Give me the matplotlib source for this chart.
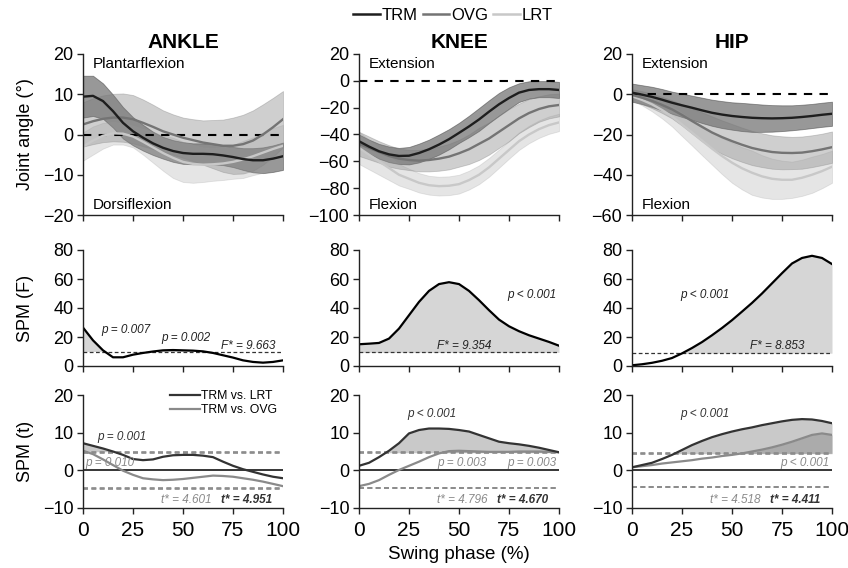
import matplotlib
matplotlib.use("Agg")
import matplotlib.pyplot as plt
from matplotlib.lines import Line2D
import numpy as np

plt.rcParams['font.family'] = ['Liberation Sans', 'DejaVu Sans']

# swing phase (%)
phase = [0, 5, 10, 15, 20, 25, 30, 35, 40, 45, 50, 55, 60, 65, 70, 75, 80, 85, 90, 95, 100]
joints = ["ANKLE", "KNEE", "HIP"]

# joint angles: mean and spread per group
ankle_trm = [9.4, 9.6, 8.3, 5.8, 2.9, 0.8, -0.8, -2.2, -3.3, -4.1, -4.6, -4.8, -4.8, -4.9, -5.2, -5.6, -6.1, -6.4, -6.4, -6.0, -5.4]
ankle_trm_sd = [5.2, 5.0, 4.4, 4.1, 3.9, 3.5, 3.2, 2.9, 2.7, 2.7, 2.7, 2.6, 2.6, 2.5, 2.4, 2.5, 2.7, 3.0, 3.2, 3.3, 3.4]
ankle_ovg = [2.5, 3.3, 3.9, 4.2, 4.2, 3.8, 2.9, 1.9, 0.8, 0.0, -0.8, -1.4, -2.0, -2.4, -2.8, -2.8, -2.4, -1.5, 0.0, 1.8, 3.8]
ankle_ovg_sd = [5.5, 5.7, 5.8, 5.9, 6.0, 6.0, 5.8, 5.5, 5.2, 5.0, 5.0, 5.2, 5.5, 6.0, 6.5, 7.0, 7.3, 7.5, 7.5, 7.3, 7.0]
ankle_lrt = [-3.0, -1.5, -0.3, 0.3, 0.2, -0.5, -1.8, -3.2, -4.6, -5.8, -6.8, -7.3, -7.5, -7.4, -7.2, -6.8, -6.2, -5.4, -4.5, -3.6, -2.8]
ankle_lrt_sd = [3.5, 3.5, 3.2, 2.8, 2.7, 2.7, 3.2, 3.8, 4.4, 5.0, 5.0, 4.7, 4.3, 4.1, 4.1, 4.2, 4.6, 4.7, 5.0, 5.2, 5.2]

knee_trm = [-45, -49, -52.5, -54.8, -56, -55.8, -53.8, -51, -47.5, -43.5, -38.8, -34, -28.8, -23, -17.5, -12.8, -8.8, -6.8, -6.2, -6.2, -6.8]
knee_trm_sd = [5, 5.2, 5.5, 5.8, 6, 6.5, 7, 7.2, 7.5, 7.5, 7.5, 8, 8.5, 8.5, 8.5, 8, 7, 6.5, 6, 6, 6]
knee_ovg = [-47, -50, -53, -56, -58, -59, -59.5, -59, -58, -56.5, -54, -51, -47, -43, -38, -33, -28, -24, -21, -19, -18]
knee_ovg_sd = [9, 8.5, 8, 8, 7.5, 7.5, 8, 8.5, 9, 9.5, 10, 11, 12, 12, 12, 12, 11, 10.5, 9.5, 9, 8.5]
knee_lrt = [-50, -55, -60, -65, -70, -73, -76, -77.8, -78.5, -78.2, -77, -74, -70, -64.5, -58, -51.5, -45, -40, -36, -33, -31]
knee_lrt_sd = [12, 11, 10, 9, 8, 7.5, 7.2, 7, 7, 7, 7, 7, 7, 7, 6.8, 6.5, 6.5, 6.5, 6.5, 6.5, 6.5]

hip_trm = [0.8, -0.2, -1.3, -2.7, -4.2, -5.5, -6.7, -8, -9.2, -10.1, -10.8, -11.3, -11.7, -11.9, -12, -11.9, -11.7, -11.3, -10.8, -10.2, -9.7]
hip_trm_sd = [4.5, 4.7, 5, 5.3, 5.5, 5.8, 6, 6.3, 6.5, 6.7, 6.8, 7, 7, 6.8, 6.6, 6.4, 6.2, 6.1, 6, 6, 6]
hip_ovg = [-0.3, -1.7, -3.3, -5.3, -7.5, -10.3, -13.3, -16.2, -19, -21.3, -23.3, -25.1, -26.7, -27.8, -28.7, -29.1, -29.2, -29, -28.3, -27.4, -26.3]
hip_ovg_sd = [2.8, 3.2, 3.6, 4, 4.5, 5.3, 6.2, 7.2, 8, 8.3, 8.5, 8.5, 8.5, 8.4, 8.3, 8.2, 8, 8, 7.9, 7.8, 7.8]
hip_lrt = [-1, -2.8, -5, -7.8, -11, -15, -19, -23, -27, -30.7, -34, -36.8, -39, -40.8, -42, -42.5, -42.5, -41.5, -40, -38.2, -36]
hip_lrt_sd = [2, 2.7, 3.5, 4.2, 5, 5.8, 6.5, 7.3, 8, 9, 10, 10.5, 11, 10.5, 10, 9.5, 9, 9, 9, 8.5, 8]

# SPM{F}
ankle_F = [26.5, 17.7, 10.8, 6.0, 6.0, 7.8, 9.0, 10.0, 10.8, 11.0, 10.8, 10.6, 10.1, 9.0, 7.4, 5.8, 3.9, 2.8, 2.3, 2.8, 3.9]
knee_F = [15, 15.4, 15.9, 18.9, 25.8, 35, 44.2, 51.8, 56.5, 57.8, 56.5, 51.8, 45.4, 38.5, 32, 27.4, 24, 21.2, 18.9, 16.6, 14]
hip_F = [0.5, 1.2, 2.2, 3.6, 5.5, 8.7, 12.4, 16.5, 21.2, 26.2, 31.6, 37.5, 43.5, 50, 57, 64, 70.7, 74.5, 76, 74.5, 70.3]
F_crit = [9.663, 9.354, 8.853]

# SPM{t}: TRM vs. LRT and TRM vs. OVG
ankle_t_lrt = [7.2, 6.5, 5.8, 5.0, 4.1, 3.0, 2.7, 2.9, 3.6, 4.0, 4.1, 4.1, 3.9, 3.5, 2.3, 1.2, 0.3, -0.4, -1.1, -1.7, -2.1]
ankle_t_ovg = [5.2, 4.3, 2.9, 1.4, -0.1, -1.2, -2.1, -2.4, -2.6, -2.5, -2.3, -2.0, -1.7, -1.4, -1.5, -1.7, -2.1, -2.5, -3.0, -3.6, -4.2]
knee_t_lrt = [1.2, 2.0, 3.5, 5.2, 7.2, 9.8, 10.7, 11.1, 11.1, 11.0, 10.7, 10.3, 9.4, 8.5, 7.6, 7.2, 6.9, 6.5, 6.0, 5.4, 4.8]
knee_t_ovg = [-4.2, -3.6, -2.6, -1.2, 0.1, 1.2, 2.3, 3.5, 4.5, 5.1, 5.2, 5.1, 5.0, 4.9, 4.9, 4.9, 5.0, 5.0, 5.0, 4.9, 4.8]
hip_t_lrt = [0.8, 1.4, 2.0, 3.0, 4.1, 5.4, 6.7, 7.8, 8.8, 9.6, 10.3, 10.9, 11.4, 12.0, 12.5, 13.0, 13.4, 13.6, 13.5, 13.1, 12.5]
hip_t_ovg = [0.8, 1.1, 1.4, 1.8, 2.1, 2.4, 2.7, 3.1, 3.4, 3.8, 4.1, 4.5, 5.0, 5.5, 6.1, 6.8, 7.6, 8.5, 9.4, 9.8, 9.4]
t_crit_lrt = [4.951, 4.670, 4.411]
t_crit_ovg = [4.601, 4.796, 4.518]

angle_ylims = [(-20, 20, 10), (-100, 20, 20), (-60, 20, 20)]
top_words = ["Plantarflexion", "Extension", "Extension"]
bottom_words = ["Dorsiflexion", "Flexion", "Flexion"]

F_texts = [[("p = 0.007", 9, 24.5), ("p = 0.002", 39, 19.5)], [("p < 0.001", 74, 49)], [("p < 0.001", 24, 49)]]
F_crit_x = [69, 39, 59]
t_texts_dark = [("p = 0.001", 7, 8.8), ("p < 0.001", 24, 14.9), ("p < 0.001", 24, 14.9)]
t_texts_gray = [[("p = 0.010", 1, 1.9)], [("p = 0.003", 39, 1.9), ("p = 0.003", 74, 1.9)], [("p < 0.001", 74, 1.9)]]

angles = [
    [(ankle_trm, ankle_trm_sd), (ankle_ovg, ankle_ovg_sd), (ankle_lrt, ankle_lrt_sd)],
    [(knee_trm, knee_trm_sd), (knee_ovg, knee_ovg_sd), (knee_lrt, knee_lrt_sd)],
    [(hip_trm, hip_trm_sd), (hip_ovg, hip_ovg_sd), (hip_lrt, hip_lrt_sd)],
]
F_curves = [ankle_F, knee_F, hip_F]
t_curves = [(ankle_t_lrt, ankle_t_ovg), (knee_t_lrt, knee_t_ovg), (hip_t_lrt, hip_t_ovg)]

line_cols = ["#1e1e1e", "#747474", "#c8c8c8"]
band_cols = [("#333333", 0.5), ("#777777", 0.35), ("#999999", 0.25)]
DARK, GRAY = "#333333", "#8a8a8a"

W, H = 848, 568
fig = plt.figure(figsize=(W / 100, H / 100), dpi=100)
lefts = [83, 359, 632]
rows = [(54, 215), (250, 366), (395, 508)]
axw = 200


def make_ax(c, r):
    top, bot = rows[r]
    ax = fig.add_axes([lefts[c] / W, 1 - bot / H, axw / W, (bot - top) / H])
    for s in ["top", "right"]:
        ax.spines[s].set_visible(False)
    for s in ["left", "bottom"]:
        ax.spines[s].set_color("#222222")
        ax.spines[s].set_linewidth(1.0)
    ax.tick_params(direction="out", length=4, width=1, color="#222222",
                   labelsize=13, pad=3)
    ax.tick_params(axis="x", labelsize=15, pad=5)
    ax.set_xlim(0, 100)
    ax.set_xticks([0, 25, 50, 75, 100])
    if r < 2:
        ax.set_xticklabels([])
    return ax


x = np.array(phase)
ital = dict(fontsize=8.5, style="italic", va="center", ha="left")

for c in range(3):
    # joint angles
    ax = make_ax(c, 0)
    lo, hi, st = angle_ylims[c]
    for (m, sd), (bc, ba) in zip(angles[c], band_cols):
        m, sd = np.array(m), np.array(sd)
        ax.fill_between(x, m - sd, m + sd, color=bc, alpha=ba, linewidth=0.6)
    ax.axhline(0, color="black", lw=1.5, ls=(0, (4, 3.5)))
    for (m, sd), lc in zip(angles[c][::-1], line_cols[::-1]):
        ax.plot(x, m, color=lc, lw=1.7)
    ax.set_ylim(lo, hi)
    ax.set_yticks(np.arange(lo, hi + 1, st))
    ax.text(0.05, 0.94, top_words[c], transform=ax.transAxes, fontsize=11, va="center")
    ax.text(0.05, 0.06, bottom_words[c], transform=ax.transAxes, fontsize=11, va="center")
    ax.set_title(joints[c], fontsize=15, fontweight="bold", pad=4)

    # SPM F
    ax = make_ax(c, 1)
    F = np.array(F_curves[c])
    fc = F_crit[c]
    ax.fill_between(x, fc, F, where=F >= fc, interpolate=True, color="#d6d6d6", linewidth=0)
    ax.axhline(fc, color="#333333", lw=0.9, ls=(0, (3, 2)))
    ax.plot(x, F, color="black", lw=1.6)
    ax.set_ylim(0, 80)
    ax.set_yticks([0, 20, 40, 60, 80])
    for s, tx, ty in F_texts[c]:
        ax.text(tx, ty, s, color="#222222", **ital)
    ax.text(F_crit_x[c], 13.6, f"F* = {fc:.3f}", color="#222222", **ital)

    # SPM t
    ax = make_ax(c, 2)
    tl, tg = np.array(t_curves[c][0]), np.array(t_curves[c][1])
    cl, cg = t_crit_lrt[c], t_crit_ovg[c]
    ax.fill_between(x, cl, tl, where=tl >= cl, interpolate=True, color="#888888", alpha=0.45, linewidth=0)
    ax.fill_between(x, cg, tg, where=tg >= cg, interpolate=True, color="#888888", alpha=0.45, linewidth=0)
    for v in [cl, -cl, cg, -cg]:
        ax.axhline(v, color="#8a8a8a", lw=1.2, ls=(0, (3, 2)))
    ax.axhline(0, color="black", lw=1.1)
    ax.plot(x, tg, color=GRAY, lw=1.6, label="TRM vs. OVG")
    ax.plot(x, tl, color=DARK, lw=1.6, label="TRM vs. LRT")
    ax.set_ylim(-10, 20)
    ax.set_yticks([-10, 0, 10, 20])
    s, tx, ty = t_texts_dark[c]
    ax.text(tx, ty, s, color=DARK, **ital)
    for s, tx, ty in t_texts_gray[c]:
        ax.text(tx, ty, s, color=GRAY, **ital)
    ax.text(39, -7.9, f"t* = {cg:.3f}", color=GRAY, **ital)
    ax.text(69, -7.9, f"t* = {cl:.3f}", color=DARK, fontweight="bold", **ital)
    if c == 0:
        h = [Line2D([], [], color=DARK, lw=1.6), Line2D([], [], color=GRAY, lw=1.6)]
        ax.legend(h, ["TRM vs. LRT", "TRM vs. OVG"], loc="upper right",
                  bbox_to_anchor=(1.0, 1.1), frameon=False, fontsize=8.8,
                  handlelength=2.45, handletextpad=0.1, labelspacing=0.2, borderpad=0)
    if c == 1:
        ax.set_xlabel("Swing phase (%)", fontsize=13.5, labelpad=5)

# row labels
for lab, yc in [("Joint angle (°)", 134.5), ("SPM (F)", 308), ("SPM (t)", 451.5)]:
    fig.text(26 / W, 1 - yc / H, lab, rotation=90, fontsize=13, ha="center", va="center")

# group legend at the top
hs = [Line2D([], [], color=lc, lw=1.8) for lc in line_cols]
fig.legend(hs, ["TRM", "OVG", "LRT"], loc="center", bbox_to_anchor=(453 / W, 1 - 15 / H),
           ncol=3, frameon=False, fontsize=12, handlelength=1.6, handletextpad=0.1,
           columnspacing=0.3)

fig.savefig("out.png", dpi=100)
